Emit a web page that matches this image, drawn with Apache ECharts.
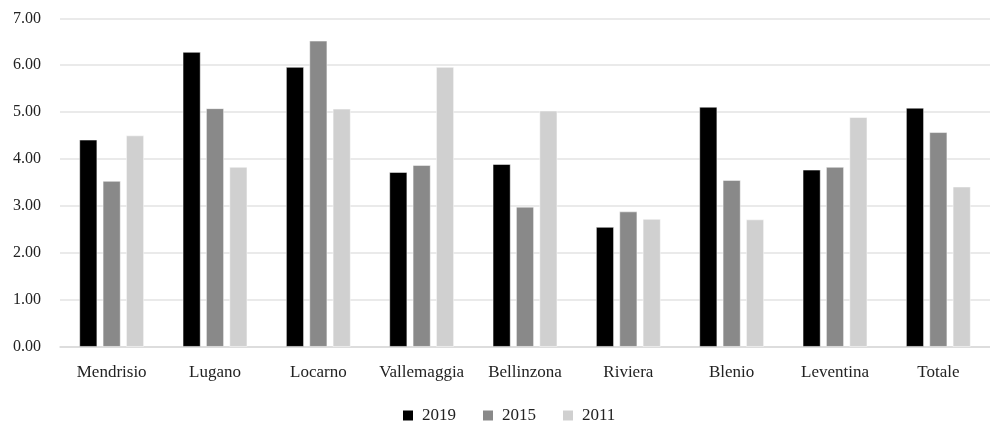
<!DOCTYPE html>
<html>
<head>
<meta charset="utf-8">
<script src="https://cdn.jsdelivr.net/npm/echarts@6/dist/echarts.min.js"></script>
<style>
  html, body { margin: 0; padding: 0; background: #fff; }
  #chart { width: 990px; height: 421px; }
</style>
</head>
<body>
<div id="chart"></div>
<script>
// Districts (plus total) on the category axis
const categories = ['Mendrisio', 'Lugano', 'Locarno', 'Vallemaggia', 'Bellinzona', 'Riviera', 'Blenio', 'Leventina', 'Totale'];

// Values per survey year
const values2019 = [4.41, 6.28, 5.96, 3.72, 3.89, 2.55, 5.11, 3.77, 5.09];
const values2015 = [3.53, 5.08, 6.52, 3.87, 2.98, 2.88, 3.55, 3.83, 4.57];
const values2011 = [4.50, 3.83, 5.07, 5.96, 5.03, 2.72, 2.71, 4.89, 3.41];

const seriesNames = ['2019', '2015', '2011'];
const seriesColors = ['#000000', '#898989', '#d0d0d0'];

const FONT = '"Liberation Serif", "Times New Roman", serif';

const chart = echarts.init(document.getElementById('chart'), null, { renderer: 'canvas' });

const dataSets = [values2019, values2015, values2011];

chart.setOption({
  animation: false,
  backgroundColor: '#ffffff',
  grid: { left: 60, top: 18.3, width: 938, bottom: 74.3, containLabel: false },
  legend: {
    data: seriesNames,
    left: 403,
    top: 407,
    padding: 0,
    itemWidth: 10,
    itemHeight: 10,
    itemGap: 27,
    icon: 'rect',
    itemStyle: { borderWidth: 0 },
    textStyle: { fontFamily: FONT, fontSize: 17, color: '#222', padding: [0, 0, 0, 4], lineHeight: 17 }
  },
  xAxis: {
    type: 'category',
    data: categories,
    axisLine: { lineStyle: { color: '#d9d9d9', width: 1.5 } },
    axisTick: { show: false },
    axisLabel: { fontFamily: FONT, fontSize: 17, color: '#222', margin: 17, interval: 0 }
  },
  yAxis: {
    type: 'value',
    min: 0,
    max: 7,
    interval: 1,
    axisLine: { show: false },
    axisTick: { show: false },
    splitLine: { lineStyle: { color: '#e3e3e3', width: 1.5 } },
    axisLabel: {
      fontFamily: FONT, fontSize: 16, color: '#222', margin: 19,
      formatter: v => v.toFixed(2)
    }
  },
  series: dataSets.map((d, i) => ({
    name: seriesNames[i],
    type: 'bar',
    data: d,
    barWidth: 17.7,
    barGap: '32%',
    itemStyle: { color: seriesColors[i], borderColor: '#ffffff', borderWidth: 0.5 }
  }))
});
</script>
</body>
</html>
